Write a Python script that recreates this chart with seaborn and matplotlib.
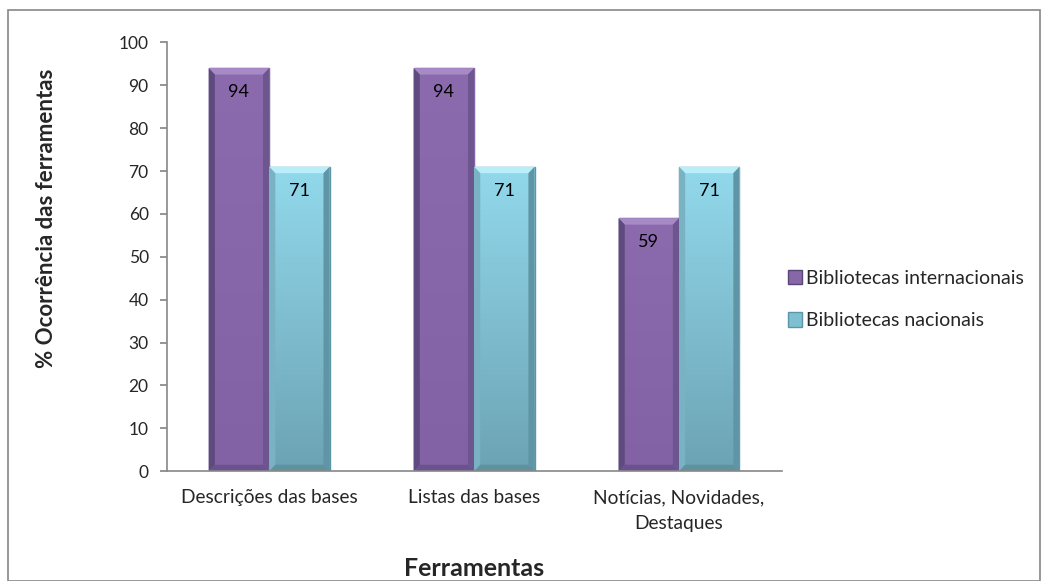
import matplotlib
matplotlib.use("Agg")
import matplotlib.pyplot as plt
import seaborn as sns
import numpy as np
import pandas as pd
from matplotlib.colors import LinearSegmentedColormap
from matplotlib.patches import Rectangle, Polygon

# Dados
categorias = ['Descrições das bases', 'Listas das bases', 'Notícias, Novidades,\nDestaques']
series = ['Bibliotecas internacionais', 'Bibliotecas nacionais']
internacionais = [94, 94, 59]
nacionais = [71, 71, 71]

df = pd.DataFrame({
    'Ferramenta': categorias * 2,
    'Série': [series[0]] * 3 + [series[1]] * 3,
    'Valor': internacionais + nacionais,
})

sns.set_theme(style="white")
plt.rcParams['font.family'] = ['Lato', 'DejaVu Sans']

cores = {series[0]: '#8667a8', series[1]: '#7dc0d2'}
gradientes = {
    series[0]: LinearSegmentedColormap.from_list('p', ['#8262a5', '#8b6bad']),
    series[1]: LinearSegmentedColormap.from_list('c', ['#6ca3b4', '#92d9ec']),
}
bordas = {series[0]: '#5a4479', series[1]: '#5b95a6'}
# cores do chanfro: topo, esquerda, direita, base
chanfro = {
    series[0]: ['#a68ac6', '#5e4a7e', '#6d5590', '#6a5290'],
    series[1]: ['#b8eefa', '#79b3c3', '#5f95a5', '#5f929f'],
}

fig = plt.figure(figsize=(10.42, 5.81), dpi=100)
ax = fig.add_axes([0.160, 0.189, 0.590, 0.738])

sns.barplot(data=df, x='Ferramenta', y='Valor', hue='Série', palette=cores,
            width=0.59, ax=ax, legend=False, saturation=1)

ax.set_xlim(-0.5, 2.5)
ax.set_ylim(0, 100)

grad = np.linspace(0, 1, 256).reshape(-1, 1)
dx, dy = 0.03, 1.5  # espessura do chanfro (~6 px)
for cont, nome in zip(ax.containers, series):
    for bar, val in zip(cont, cont.datavalues):
        bar.set_edgecolor(bordas[nome])
        bar.set_linewidth(1.0)
        x, y = bar.get_x(), bar.get_y()
        w, h = bar.get_width(), bar.get_height()
        z = bar.get_zorder()
        im = ax.imshow(grad, extent=[x, x + w, y, y + h], origin='lower',
                       aspect='auto', cmap=gradientes[nome], zorder=z + 0.1)
        im.set_clip_path(bar)
        t, l, r_, b = chanfro[nome]
        x1, y1 = x + w, y + h
        faces = [
            ([(x, y1), (x1, y1), (x1 - dx, y1 - dy), (x + dx, y1 - dy)], t),
            ([(x, y), (x, y1), (x + dx, y1 - dy), (x + dx, y + dy)], l),
            ([(x1, y), (x1, y1), (x1 - dx, y1 - dy), (x1 - dx, y + dy)], r_),
            ([(x, y), (x1, y), (x1 - dx, y + dy), (x + dx, y + dy)], b),
        ]
        for pts, c in faces:
            ax.add_patch(Polygon(pts, closed=True, facecolor=c, edgecolor='none',
                                 zorder=z + 0.2))
        ax.text(x + w / 2, val - 5.6, f'{val:.0f}', ha='center', va='center',
                fontsize=13, color='black', zorder=5)

ax.set_xlim(-0.5, 2.5)
ax.set_ylim(0, 100)
ax.set_yticks(range(0, 101, 10))
ax.set_xticks([-0.5, 0.5, 1.5, 2.5], minor=True)
ax.tick_params(axis='x', which='major', length=0, labelsize=13.8, pad=13)
ax.tick_params(axis='x', which='minor', length=5, color='#888888', direction='out')
ax.tick_params(axis='y', length=5, color='#888888', direction='out', labelsize=12.5,
               left=True, pad=8)
for lbl in ax.get_xticklabels():
    lbl.set_linespacing(1.6)
for s in ['top', 'right']:
    ax.spines[s].set_visible(False)
for s in ['left', 'bottom']:
    ax.spines[s].set_color('#888888')
    ax.spines[s].set_linewidth(1.2)

ax.set_xlabel('Ferramentas', fontsize=18, fontweight='bold')
ax.xaxis.set_label_coords(0.5, -0.226)
ax.xaxis.label.set_va('center')
ax.set_ylabel('% Ocorrência das ferramentas', fontsize=16, fontweight='bold')
ax.yaxis.set_label_coords(-0.195, 0.59)
ax.yaxis.label.set_va('center')

handles = [Rectangle((0, 0), 1, 1, facecolor=cores[s], edgecolor=bordas[s]) for s in series]
ax.legend(handles, series, loc='center left', bbox_to_anchor=(1.01, 0.40), frameon=False,
          fontsize=14, handlelength=0.75, handleheight=0.75, handletextpad=0.2,
          labelspacing=1.3, borderpad=0, borderaxespad=0)

# Borda externa
fig.patches.append(Rectangle((0.008, 0.0), 0.99, 0.983, transform=fig.transFigure,
                             fill=False, edgecolor='#888888', linewidth=1.2))

plt.savefig('out.png', dpi=100)
